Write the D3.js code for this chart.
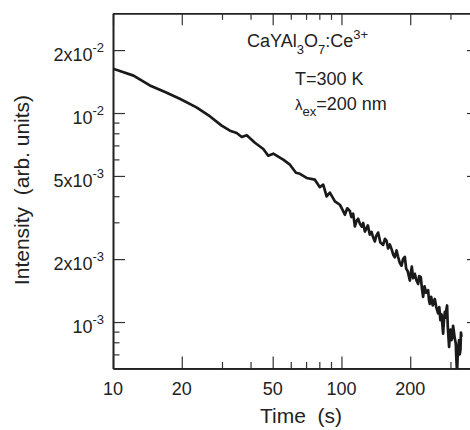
<!DOCTYPE html>
<html>
<head>
<meta charset="utf-8">
<script src="https://cdn.jsdelivr.net/npm/d3@7"></script>
<style>
  body { margin: 0; background: #fff; }
  svg { display: block; }
  text { font-family: "Liberation Sans", Arial, sans-serif; fill: #222; }
</style>
</head>
<body>
<div id="chart"></div>
<script>
// decay curve
var times = [10, 12.3, 14.5, 16.9, 19.6, 23.2, 26.6, 29.9, 32.5, 34.8,
  36.6, 38.5, 41.8, 45.5, 47.8, 50.3, 55.6, 59.5, 63.2, 65.8,
  70.4, 76.5, 80.4, 83.2, 86.1, 89.0, 93.6, 98.4,
  101, 103.5, 106, 108.8, 110.5, 112.5, 114.5, 116.5, 118.3, 120.5,
  122.8, 124.5, 126.6, 128.5, 130.5, 133, 135.4, 137.5, 140.0, 142,
  144.7, 148, 152.2, 155, 157.5, 160, 162.8, 166, 168.5, 171.2,
  174.2, 177, 180, 183.2, 186, 189.4, 192, 195, 199.2, 201,
  203.2, 206, 209.5, 213, 216.6, 219, 222.5, 225, 227.7, 231,
  235, 239.5, 241.5, 243.6, 247, 251, 256.2, 260, 264.9, 268,
  271, 274.1, 276, 278.6, 281, 283.5, 286.2, 288, 290.0, 292,
  295.9, 298, 300.1, 303, 306.2, 308, 310.2, 313, 316.5, 318.5,
  320.7, 323, 327.2, 329.5, 331.9, 333.5, 335.2];
var intensity = [1.63e-2, 1.51e-2, 1.355e-2, 1.26e-2, 1.17e-2, 1.064e-2, 9.63e-3, 8.70e-3, 8.23e-3, 8.02e-3,
  7.68e-3, 7.83e-3, 7.21e-3, 6.73e-3, 6.25e-3, 6.39e-3, 5.98e-3, 5.66e-3, 5.18e-3, 5.12e-3,
  4.89e-3, 4.80e-3, 4.42e-3, 4.54e-3, 3.99e-3, 4.16e-3, 3.78e-3, 3.64e-3,
  3.45e-3, 3.26e-3, 3.50e-3, 3.40e-3, 3.18e-3, 3.30e-3, 2.87e-3, 3.05e-3, 3.12e-3, 2.95e-3,
  2.86e-3, 2.98e-3, 2.71e-3, 2.80e-3, 2.90e-3, 2.62e-3, 2.70e-3, 2.55e-3, 2.43e-3, 2.58e-3,
  2.68e-3, 2.40e-3, 2.34e-3, 2.50e-3, 2.45e-3, 2.25e-3, 2.35e-3, 2.22e-3, 2.10e-3, 2.04e-3,
  2.20e-3, 2.05e-3, 1.92e-3, 1.86e-3, 2.00e-3, 2.05e-3, 1.80e-3, 1.75e-3, 1.58e-3, 1.70e-3,
  1.84e-3, 1.62e-3, 1.70e-3, 1.58e-3, 1.52e-3, 1.66e-3, 1.64e-3, 1.45e-3, 1.32e-3, 1.48e-3,
  1.38e-3, 1.42e-3, 1.28e-3, 1.22e-3, 1.32e-3, 1.20e-3, 1.29e-3, 1.18e-3, 1.10e-3, 1.18e-3,
  1.02e-3, 1.09e-3, 1.00e-3, 8.8e-4, 1.02e-3, 1.12e-3, 1.05e-3, 1.15e-3, 1.20e-3, 9.5e-4,
  7.6e-4, 8.6e-4, 9.2e-4, 8.2e-4, 8.5e-4, 9.6e-4, 9.1e-4, 8.4e-4, 7.9e-4, 6.6e-4,
  5.7e-4, 7.2e-4, 8.2e-4, 7.0e-4, 7.4e-4, 8.9e-4, 8.5e-4];

var xMajor = [10, 20, 50, 100, 200];
var xMinor = [30, 40, 60, 70, 80, 90, 300];
var xLabels = ["10", "20", "50", "100", "200"];

var yMajor = [1e-3, 2e-3, 5e-3, 1e-2, 2e-2];
var yMinor = [7e-4, 8e-4, 9e-4, 3e-3, 4e-3, 6e-3, 7e-3, 8e-3, 9e-3];
var yLabelBase = ["10", "2x10", "5x10", "10", "2x10"];
var yLabelExp = ["-3", "-3", "-3", "-2", "-2"];

var W = 470, H = 430;
var plotL = 113, plotT = 13.3, plotR = 479, plotB = 368.4;

var svg = d3.select("#chart").append("svg")
  .attr("width", W).attr("height", H);

var x = d3.scaleLog().domain([10, 400]).range([plotL, plotR]);
var y = d3.scaleLog().domain([6e-4, 3e-2]).range([plotB, plotT]);

svg.append("clipPath").attr("id", "plotClip")
  .append("rect")
  .attr("x", plotL).attr("y", plotT)
  .attr("width", plotR - plotL).attr("height", plotB - plotT);

// ticks (inward) on all four sides
function tickAxis(axisFn, scale, vals, size, tx, ty) {
  var g = svg.append("g")
    .attr("transform", "translate(" + tx + "," + ty + ")")
    .call(axisFn(scale).tickValues(vals).tickSizeInner(size).tickSizeOuter(0).tickFormat(""));
  g.select(".domain").attr("stroke", "#222").attr("stroke-width", 1.6);
  g.selectAll(".tick line").attr("stroke", "#333").attr("stroke-width", 1.2);
  return g;
}
tickAxis(d3.axisBottom, x, xMajor, -12, 0, plotB);
tickAxis(d3.axisBottom, x, xMinor, -6.5, 0, plotB);
tickAxis(d3.axisTop, x, xMajor, -12, 0, plotT);
tickAxis(d3.axisTop, x, xMinor, -6.5, 0, plotT);
tickAxis(d3.axisLeft, y, yMajor, -12, plotL, 0);
tickAxis(d3.axisLeft, y, yMinor, -6.5, plotL, 0);
tickAxis(d3.axisRight, y, yMajor, -12, plotR, 0);
tickAxis(d3.axisRight, y, yMinor, -6.5, plotR, 0);

// x tick labels
svg.selectAll(".xlab")
  .data(xMajor)
  .enter()
  .append("text")
  .attr("x", function (d) { return x(d); })
  .attr("y", 395)
  .attr("text-anchor", "middle")
  .style("font-size", "18px")
  .text(function (d, i) { return xLabels[i]; });

// y tick labels with superscript exponents
var ylab = svg.selectAll(".ylab")
  .data(yMajor)
  .enter()
  .append("text")
  .attr("x", 104)
  .attr("y", function (d) { return y(d) + 11; })
  .attr("text-anchor", "end")
  .style("font-size", "18px");
ylab.append("tspan").text(function (d, i) { return yLabelBase[i]; });
ylab.append("tspan")
  .attr("dy", -9)
  .style("font-size", "13px")
  .text(function (d, i) { return yLabelExp[i]; });

// axis titles
svg.append("text")
  .attr("x", (plotL + plotR) / 2 + 5)
  .attr("y", 423)
  .attr("text-anchor", "middle")
  .style("font-size", "21px")
  .style("white-space", "pre")
  .text("Time  (s)");

svg.append("text")
  .attr("transform", "translate(29,190) rotate(-90)")
  .attr("text-anchor", "middle")
  .style("font-size", "21px")
  .style("white-space", "pre")
  .text("Intensity  (arb. units)");

// data line
var pts = times.map(function (t, i) { return [t, intensity[i]]; });
svg.append("path")
  .datum(pts)
  .attr("clip-path", "url(#plotClip)")
  .attr("fill", "none")
  .attr("stroke", "#1a1a1a")
  .attr("stroke-width", 2.7)
  .attr("stroke-linejoin", "round")
  .attr("d", d3.line()
    .x(function (d) { return x(d[0]); })
    .y(function (d) { return y(d[1]); }));

// annotations
var ann = svg.append("text")
  .attr("x", 247).attr("y", 47)
  .style("font-size", "18px");
ann.append("tspan").text("CaYAl");
ann.append("tspan").attr("dy", 7).style("font-size", "13px").text("3");
ann.append("tspan").attr("dy", -7).text("O");
ann.append("tspan").attr("dy", 7).style("font-size", "13px").text("7");
ann.append("tspan").attr("dy", -7).text(":Ce");
ann.append("tspan").attr("dy", -8).style("font-size", "13px").text("3+");

svg.append("text")
  .attr("x", 295).attr("y", 85)
  .style("font-size", "18px")
  .text("T=300 K");

var lam = svg.append("text")
  .attr("x", 295).attr("y", 110)
  .style("font-size", "18px");
lam.append("tspan").style("font-size", "15px").text("λ");
lam.append("tspan").attr("dy", 6).style("font-size", "13px").text("ex");
lam.append("tspan").attr("dy", -6).text("=200 nm");
</script>
</body>
</html>
